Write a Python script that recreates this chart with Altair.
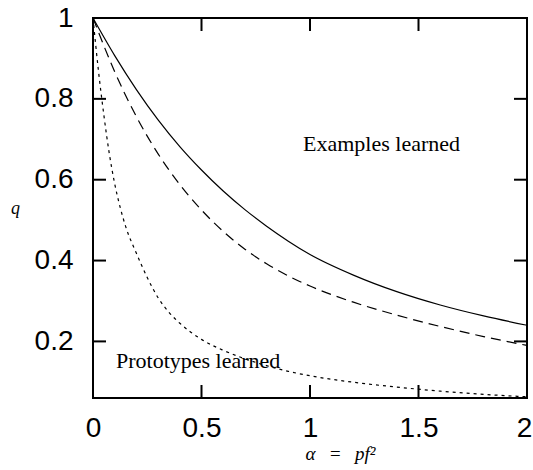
import altair as alt
import pandas as pd

# ---- data ----
alpha = [0.0, 0.1, 0.2, 0.3, 0.4, 0.5, 0.6, 0.7, 0.8, 0.9, 1.0, 1.2, 1.4, 1.6, 1.8, 2.0]
q_examples = [1.0, 0.907, 0.823, 0.748, 0.682, 0.624, 0.572, 0.526, 0.485, 0.448, 0.415,
              0.364, 0.323, 0.29, 0.263, 0.24]
q_middle = [1.0, 0.867, 0.756, 0.664, 0.588, 0.525, 0.472, 0.428, 0.392, 0.362, 0.337,
            0.297, 0.265, 0.237, 0.212, 0.19]

alpha_proto = [0.0, 0.025, 0.05, 0.075, 0.1, 0.125, 0.15, 0.2, 0.25, 0.3, 0.35, 0.4, 0.5, 0.6,
               0.7, 0.8, 0.9, 1.0, 1.2, 1.4, 1.6, 1.8, 2.0]
q_proto = [1.0, 0.87, 0.76, 0.665, 0.59, 0.532, 0.485, 0.418, 0.358, 0.308, 0.272, 0.245, 0.205,
           0.178, 0.157, 0.14, 0.126, 0.115, 0.099, 0.087, 0.077, 0.069, 0.063]

x_ticks = [0.5, 1.0, 1.5]
y_ticks = [0.2, 0.4, 0.6, 0.8]

labels = ["Examples learned", "Prototypes learned"]
label_alpha = [0.968, 0.106]
label_q = [0.672, 0.133]

W, H = 434, 380

xs = alt.Scale(domain=[0, 2], nice=False, zero=False)
ys = alt.Scale(domain=[0.06, 1], nice=False, zero=False)

xaxis = alt.Axis(values=[0, 0.5, 1, 1.5, 2], format=".1~f", title="α\u2002\u2009=\u2002\u2009pf²",
                 titleFont="Liberation Serif", titleFontStyle="italic", titleFontWeight="normal",
                 titleFontSize=19, titleX=247, titleY=61, titleAlign="center",
                 titleBaseline="alphabetic", labelPadding=16, labelFlush=False,
                 labelOffset={"condition": {"test": "datum.value == 2", "value": -3}, "value": 0},
                 labelOverlap=False, grid=False, domain=False, ticks=False)
yaxis = alt.Axis(values=[0.2, 0.4, 0.6, 0.8, 1], format=".1~f", title="q", titleAngle=0,
                 titleFont="Liberation Serif", titleFontStyle="italic", titleFontWeight="normal",
                 titleFontSize=18, titleX=-78, titleY=195, titleAlign="center",
                 titleBaseline="alphabetic", labelPadding=20, labelFlush=False,
                 labelOverlap=False, grid=False, domain=False, ticks=False)

xenc = alt.X("alpha:Q", scale=xs, axis=xaxis)
yenc = alt.Y("q:Q", scale=ys, axis=yaxis)

df_ex = pd.DataFrame({"alpha": alpha, "q": q_examples})
df_mid = pd.DataFrame({"alpha": alpha, "q": q_middle})
df_pr = pd.DataFrame({"alpha": alpha_proto, "q": q_proto})

solid = alt.Chart(df_ex).mark_line(color="black", strokeWidth=1.2, interpolate="monotone").encode(x=xenc, y=yenc)
dashed = alt.Chart(df_mid).mark_line(color="black", strokeWidth=1.2, interpolate="monotone",
                                     strokeDash=[10, 6]).encode(x=xenc, y=yenc)
dotted = alt.Chart(df_pr).mark_line(color="black", strokeWidth=1.2, interpolate="monotone",
                                    strokeDash=[3, 4]).encode(x=xenc, y=yenc)

dfx = pd.DataFrame({"alpha": x_ticks})
dfy = pd.DataFrame({"q": y_ticks})
tick_len = 13
tb = alt.Chart(dfx).mark_rule(color="black", strokeWidth=2).encode(
    x=xenc, y=alt.value(H), y2=alt.value(H - tick_len))
tt = alt.Chart(dfx).mark_rule(color="black", strokeWidth=2).encode(
    x=xenc, y=alt.value(0), y2=alt.value(tick_len))
tl = alt.Chart(dfy).mark_rule(color="black", strokeWidth=2).encode(
    y=yenc, x=alt.value(0), x2=alt.value(tick_len))
tr = alt.Chart(dfy).mark_rule(color="black", strokeWidth=2).encode(
    y=yenc, x=alt.value(W), x2=alt.value(W - tick_len))

df_lab = pd.DataFrame({"alpha": label_alpha, "q": label_q, "label": labels})
text = alt.Chart(df_lab).mark_text(font="Liberation Serif", fontSize=22, align="left",
                                   baseline="alphabetic", color="black").encode(
    x=xenc, y=yenc, text="label:N")

chart = alt.layer(solid, dashed, dotted, tb, tt, tl, tr, text).properties(
    width=W, height=H,
    background="white",
    autosize=alt.AutoSizeParams(type="none"),
    padding={"left": 93, "top": 18, "right": 6, "bottom": 72},
).configure_view(stroke="black", strokeWidth=2).configure_axis(
    grid=False, domain=False, ticks=False, tickSize=0,
    labelFont="Liberation Sans", labelFontSize=28, labelColor="black", titleColor="black"
)

chart.save("out.html", embed_options={"renderer": "svg", "actions": False})
